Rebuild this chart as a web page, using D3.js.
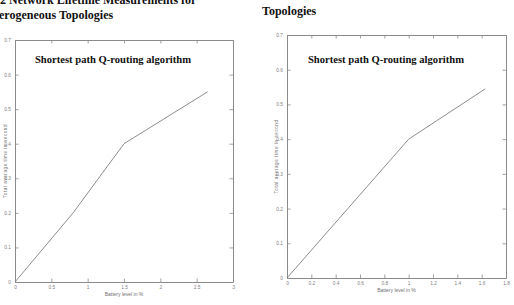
<!DOCTYPE html>
<html>
<head>
<meta charset="utf-8">
<script src="https://cdn.jsdelivr.net/npm/d3@7"></script>
<style>
  html, body { margin: 0; padding: 0; background: #fff; }
  svg { display: block; }
</style>
</head>
<body>
<svg id="chart" width="514" height="305"></svg>
<script>
// ---- data ----
const leftBattery = [0, 0.8, 1.5, 2.65];
const leftTime = [0, 0.2, 0.4, 0.55];
const rightBattery = [0, 1.0, 1.63];
const rightTime = [0, 0.4, 0.545];
const leftXTicks = [0, 0.5, 1, 1.5, 2, 2.5, 3];
const rightXTicks = [0, 0.2, 0.4, 0.6, 0.8, 1, 1.2, 1.4, 1.6, 1.8];
const yTicks = [0, 0.1, 0.2, 0.3, 0.4, 0.5, 0.6, 0.7];
const chartTitle = "Shortest path Q-routing algorithm";
const xLabel = "Battery level in %";
const yLabel = "Total average time in second";
const headingLeft = ["2 Network Lifetime Measurements for", "erogeneous Topologies"];
const headingRight = ["Topologies"];

const svg = d3.select("#chart");

// page headings (cropped text from the document)
svg.append("text").attr("x", 0).attr("y", 4)
  .attr("font-family", "Liberation Serif").attr("font-weight", "bold")
  .attr("font-size", 12).attr("fill", "#111").text(headingLeft[0]);
svg.append("text").attr("x", -1).attr("y", 19)
  .attr("font-family", "Liberation Serif").attr("font-weight", "bold")
  .attr("font-size", 12).attr("fill", "#111").text(headingLeft[1]);
svg.append("text").attr("x", 262).attr("y", 15)
  .attr("font-family", "Liberation Serif").attr("font-weight", "bold")
  .attr("font-size", 12).attr("fill", "#111").text(headingRight[0]);

const panels = [
  { xs: leftBattery, ys: leftTime, xTicks: leftXTicks, xMax: 3,
    left: 15, right: 233, top: 40, bottom: 282, titleX: 113, ylabX: 7, xlabY: 296 },
  { xs: rightBattery, ys: rightTime, xTicks: rightXTicks, xMax: 1.8,
    left: 287, right: 506, top: 35, bottom: 278, titleX: 386, ylabX: 278, xlabY: 292 }
];

const axisColor = "#8a8a8a";
const fmt = d => (d === 0 ? "0" : String(d));

panels.forEach(p => {
  const x = d3.scaleLinear().domain([0, p.xMax]).range([p.left, p.right]);
  const y = d3.scaleLinear().domain([0, 0.7]).range([p.bottom, p.top]);
  const g = svg.append("g");
  const tl = 3.5;

  const bottomAxis = d3.axisBottom(x).tickValues(p.xTicks).tickSize(-tl).tickSizeOuter(0).tickPadding(4).tickFormat(fmt);
  const topAxis = d3.axisTop(x).tickValues(p.xTicks).tickSize(-tl).tickSizeOuter(0).tickFormat("");
  const leftAxis = d3.axisLeft(y).tickValues(yTicks).tickSize(-tl).tickSizeOuter(0).tickPadding(4).tickFormat(fmt);
  const rightAxis = d3.axisRight(y).tickValues(yTicks).tickSize(-tl).tickSizeOuter(0).tickFormat("");

  const styleAxis = sel => {
    sel.selectAll("path").attr("stroke", axisColor).attr("stroke-width", 1);
    sel.selectAll("line").attr("stroke", axisColor).attr("stroke-width", 0.8);
    sel.selectAll("text").attr("fill", "#808080").attr("font-size", 4.8)
      .attr("font-family", "Liberation Sans");
  };

  g.append("g").attr("transform", `translate(0,${p.bottom})`).call(bottomAxis).call(styleAxis);
  g.append("g").attr("transform", `translate(0,${p.top})`).call(topAxis).call(styleAxis);
  g.append("g").attr("transform", `translate(${p.left},0)`).call(leftAxis).call(styleAxis);
  g.append("g").attr("transform", `translate(${p.right},0)`).call(rightAxis).call(styleAxis);

  const line = d3.line().x((d, i) => x(p.xs[i])).y((d, i) => y(p.ys[i]));
  g.append("path").datum(p.xs).attr("d", line)
    .attr("fill", "none").attr("stroke", "#808080").attr("stroke-width", 0.9);

  g.append("text").attr("x", p.titleX).attr("y", 63)
    .attr("text-anchor", "middle")
    .attr("font-family", "Liberation Serif").attr("font-weight", "bold")
    .attr("font-size", 10.6).attr("fill", "#111").text(chartTitle);

  g.append("text").attr("x", (p.left + p.right) / 2).attr("y", p.xlabY)
    .attr("text-anchor", "middle").attr("font-family", "Liberation Sans Narrow, Liberation Sans")
    .attr("font-size", 5).attr("fill", "#707070").text(xLabel);

  g.append("text")
    .attr("transform", `translate(${p.ylabX},${(p.top + p.bottom) / 2}) rotate(-90)`)
    .attr("text-anchor", "middle").attr("font-family", "Liberation Sans")
    .attr("font-size", 4.5).attr("fill", "#707070").attr("letter-spacing", 0.6).text(yLabel);
});
</script>
</body>
</html>
